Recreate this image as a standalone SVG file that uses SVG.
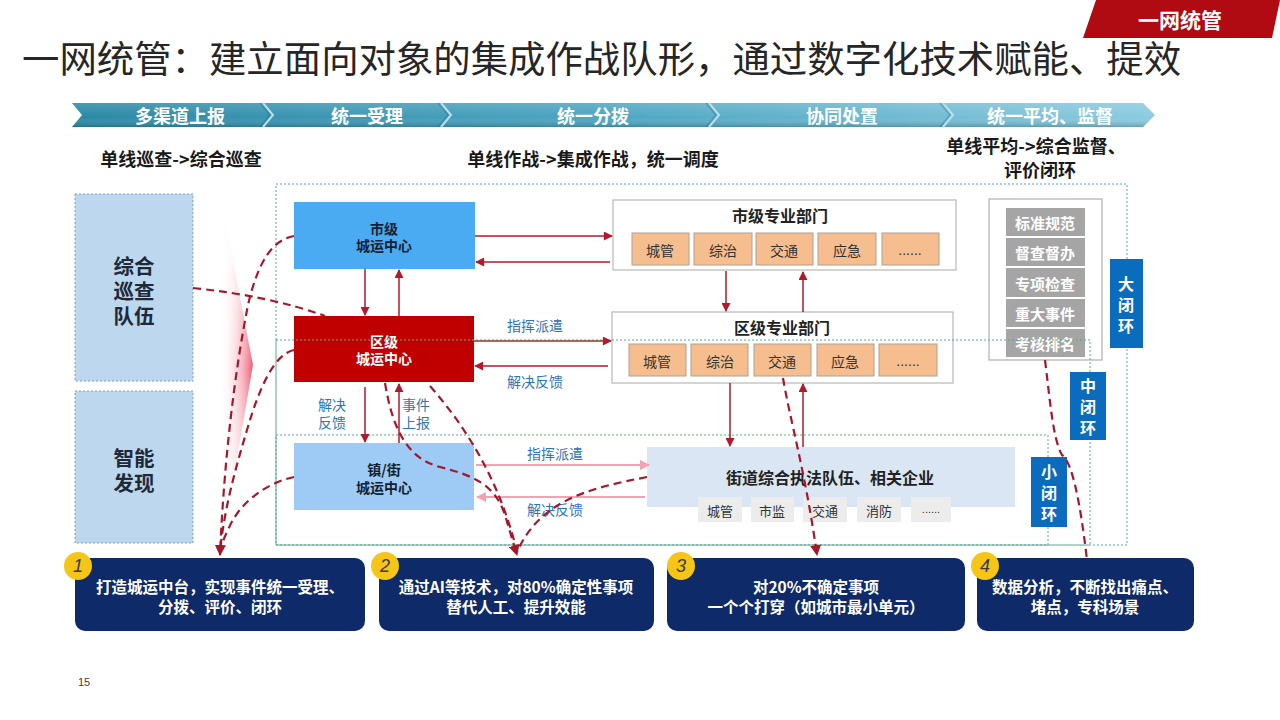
<svg xmlns="http://www.w3.org/2000/svg" width="1280" height="720" viewBox="0 0 1280 720">
<defs>
<style>
.cjk{font-family:"Noto Sans CJK SC","Noto Sans",sans-serif}
.b{font-weight:bold}
.c{text-anchor:middle;dominant-baseline:central}
.sub{font-size:18px;fill:#1a1a1a;font-weight:bold}
.band{font-size:18px;fill:#fff;font-weight:bold}
.lbl{font-size:14px;fill:#2e75b6}
.orange{fill:#f6bd8e;stroke:#b0a090;stroke-width:1}
.oTxt{font-size:14px;fill:#333}
.gray{fill:#a5a5a5}
.gTxt{font-size:15px;fill:#fff;font-weight:bold}
.loopLbl{fill:#0b6cbd}
.loopTxt{font-size:16px;fill:#fff;font-weight:bold}
.navy{fill:#0f2a69}
.navyTxt{font-size:15.5px;fill:#fff;font-weight:bold}
.circ{fill:#f5c518}
.num{font-family:"Liberation Sans",sans-serif;font-style:italic;font-size:18px;fill:#3a3a3a}
.solid{stroke:#b3192b;stroke-width:1.5;fill:none;marker-end:url(#ah)}
.pink{stroke:#f2a3b2;stroke-width:2;fill:none;marker-end:url(#ahp)}
.dash{stroke:#a5172b;stroke-width:2.2;fill:none;stroke-dasharray:8 5}
.dashA{stroke:#a5172b;stroke-width:2.2;fill:none;stroke-dasharray:8 5;marker-end:url(#ahd)}
</style>
<marker id="ah" viewBox="0 0 10 10" refX="9" refY="5" markerUnits="userSpaceOnUse" markerWidth="10" markerHeight="9" orient="auto"><path d="M0,0 L10,5 L0,10 z" fill="#b3192b"/></marker>
<marker id="ahp" viewBox="0 0 10 10" refX="9" refY="5" markerUnits="userSpaceOnUse" markerWidth="11" markerHeight="10" orient="auto"><path d="M0,0 L10,5 L0,10 z" fill="#f2a3b2"/></marker>
<marker id="ahd" viewBox="0 0 10 10" refX="9" refY="5" markerUnits="userSpaceOnUse" markerWidth="11" markerHeight="11" orient="auto"><path d="M0,0 L10,5 L0,10 z" fill="#a5172b"/></marker>
<linearGradient id="bandG" x1="0" y1="0" x2="1" y2="0">
<stop offset="0" stop-color="#2a88a5"/><stop offset="0.5" stop-color="#4ea6c2"/><stop offset="1" stop-color="#8ccbe0"/>
</linearGradient>
<linearGradient id="bandV" x1="0" y1="0" x2="0" y2="1">
<stop offset="0" stop-color="#fff" stop-opacity="0.15"/><stop offset="0.6" stop-color="#fff" stop-opacity="0"/><stop offset="1" stop-color="#0a3a4a" stop-opacity="0.3"/>
</linearGradient>
<linearGradient id="pinkH" x1="0" y1="0" x2="1" y2="0">
<stop offset="0" stop-color="#ffffff" stop-opacity="0"/><stop offset="1" stop-color="#ee4a66" stop-opacity="0.9"/>
</linearGradient>
<linearGradient id="pinkV" x1="0" y1="0" x2="0" y2="1">
<stop offset="0" stop-color="#fff" stop-opacity="0.9"/><stop offset="0.5" stop-color="#fff" stop-opacity="0"/><stop offset="1" stop-color="#fff" stop-opacity="0.9"/>
</linearGradient>
</defs>
<rect width="1280" height="720" fill="#fff"/>

<g id="tag">
<polygon points="1096,0 1280,0 1272,38 1083,38" fill="#b00a12"/>
<text class="cjk b c" x="1180" y="19" font-size="21" fill="#fff">一网统管</text>
</g>
<g id="title">
<text class="cjk" x="22" y="73" font-size="37.4" fill="#262626">一网统管：建立面向对象的集成作战队形，通过数字化技术赋能、提效</text>
</g>

<g id="header-band">
<path d="M72,103 L1143,103 L1155,115 L1143,127 L72,127 L82,115 Z" fill="url(#bandG)"/>
<path d="M72,103 L1143,103 L1155,115 L1143,127 L72,127 L82,115 Z" fill="url(#bandV)"/>
<g fill="none">
<polyline points="260,103 270,115 260,127" stroke="#1d6a80" stroke-opacity="0.35" stroke-width="1.5"/>
<polyline points="263,103 273,115 263,127" stroke="#b8dfec" stroke-width="2"/>
<polyline points="438,103 448,115 438,127" stroke="#1d6a80" stroke-opacity="0.35" stroke-width="1.5"/>
<polyline points="441,103 451,115 441,127" stroke="#b8dfec" stroke-width="2"/>
<polyline points="706,103 716,115 706,127" stroke="#1d6a80" stroke-opacity="0.35" stroke-width="1.5"/>
<polyline points="709,103 719,115 709,127" stroke="#b8dfec" stroke-width="2"/>
<polyline points="940,103 950,115 940,127" stroke="#1d6a80" stroke-opacity="0.35" stroke-width="1.5"/>
<polyline points="943,103 953,115 943,127" stroke="#b8dfec" stroke-width="2"/>
</g>
<text class="cjk band c" x="180" y="115">多渠道上报</text>
<text class="cjk band c" x="367" y="115">统一受理</text>
<text class="cjk band c" x="593" y="115">统一分拨</text>
<text class="cjk band c" x="842" y="115">协同处置</text>
<text class="cjk band c" x="1050" y="115">统一平均、监督</text>
</g>

<g id="subtitles">
<text class="cjk sub c" x="181" y="158">单线巡查-&gt;综合巡查</text>
<text class="cjk sub c" x="593" y="158">单线作战-&gt;集成作战，统一调度</text>
<text class="cjk sub c" x="1036" y="145">单线平均-&gt;综合监督、</text>
<text class="cjk sub c" x="1040" y="169">评价闭环</text>
</g>

<g id="pink-chevron">
<polygon points="220,195 253,365 222,545 220,545" fill="url(#pinkH)"/>
<polygon points="220,195 253,365 222,545 220,545" fill="url(#pinkV)"/>
</g>

<g id="patrol-team">
<rect x="75" y="194" width="118" height="187" fill="#bdd7ee" stroke="#7f9fc0" stroke-width="1" stroke-dasharray="2 2"/>
<text class="cjk b c" x="134" y="265" font-size="20.5" fill="#1e2a38">综合</text>
<text class="cjk b c" x="134" y="290" font-size="20.5" fill="#1e2a38">巡查</text>
<text class="cjk b c" x="134" y="315" font-size="20.5" fill="#1e2a38">队伍</text>
</g>
<g id="smart-discovery">
<rect x="75" y="391" width="118" height="152" fill="#bdd7ee" stroke="#7f9fc0" stroke-width="1" stroke-dasharray="2 2"/>
<text class="cjk b c" x="134" y="457" font-size="20.5" fill="#1e2a38">智能</text>
<text class="cjk b c" x="134" y="482" font-size="20.5" fill="#1e2a38">发现</text>
</g>

<g id="city-center">
<rect x="294" y="202" width="181" height="67" fill="#4aabf3"/>
<text class="cjk b c" x="384" y="228" font-size="14" fill="#141e30">市级</text>
<text class="cjk b c" x="384" y="245" font-size="14" fill="#141e30">城运中心</text>
</g>
<g id="district-center">
<rect x="294" y="316" width="180" height="66" fill="#c00000"/>
<text class="cjk b c" x="384" y="341" font-size="14" fill="#fff">区级</text>
<text class="cjk b c" x="384" y="358" font-size="14" fill="#fff">城运中心</text>
</g>
<g id="street-center">
<rect x="294" y="443" width="180" height="67" fill="#9dcbf5"/>
<text class="cjk b c" x="384" y="469" font-size="14" fill="#141e30">镇/街</text>
<text class="cjk b c" x="384" y="487" font-size="14" fill="#141e30">城运中心</text>
</g>

<g id="city-depts">
<rect x="613" y="200" width="343" height="70" fill="#fff" stroke="#b8b8b8" stroke-width="1.2"/>
<text class="cjk b c" x="780" y="215" font-size="16" fill="#222">市级专业部门</text>
<rect class="orange" x="632" y="233" width="57" height="32"/>
<rect class="orange" x="694" y="233" width="58" height="32"/>
<rect class="orange" x="756" y="233" width="57" height="32"/>
<rect class="orange" x="818" y="233" width="58" height="32"/>
<rect class="orange" x="882" y="233" width="57" height="32"/>
<text class="cjk oTxt c" x="660" y="250">城管</text>
<text class="cjk oTxt c" x="723" y="250">综治</text>
<text class="cjk oTxt c" x="784" y="250">交通</text>
<text class="cjk oTxt c" x="847" y="250">应急</text>
<text class="oTxt c" x="910" y="250" font-family="Liberation Sans,sans-serif" font-size="12">......</text>
</g>
<g id="district-depts">
<rect x="612" y="312" width="341" height="71" fill="#fff" stroke="#b8b8b8" stroke-width="1.2"/>
<text class="cjk b c" x="782" y="327" font-size="16" fill="#222">区级专业部门</text>
<rect class="orange" x="629" y="344" width="57" height="32"/>
<rect class="orange" x="691" y="344" width="57" height="32"/>
<rect class="orange" x="754" y="344" width="57" height="32"/>
<rect class="orange" x="817" y="344" width="57" height="32"/>
<rect class="orange" x="879" y="344" width="58" height="32"/>
<text class="cjk oTxt c" x="657" y="361">城管</text>
<text class="cjk oTxt c" x="720" y="361">综治</text>
<text class="cjk oTxt c" x="782" y="361">交通</text>
<text class="cjk oTxt c" x="845" y="361">应急</text>
<text class="oTxt c" x="908" y="361" font-family="Liberation Sans,sans-serif" font-size="12">......</text>
</g>
<g id="street-teams">
<rect x="647" y="447" width="368" height="60" fill="#dae6f3"/>
<text class="cjk b c" x="830" y="477" font-size="16" fill="#222">街道综合执法队伍、相关企业</text>
<g fill="#ececec">
<rect x="698" y="497" width="44" height="25"/>
<rect x="751" y="497" width="43" height="25"/>
<rect x="803" y="497" width="44" height="25"/>
<rect x="857" y="497" width="44" height="25"/>
<rect x="911" y="497" width="40" height="25"/>
</g>
<g class="cjk c" font-size="13" fill="#333">
<text x="720" y="510">城管</text>
<text x="772" y="510">市监</text>
<text x="825" y="510">交通</text>
<text x="879" y="510">消防</text>
<text x="931" y="509" font-family="Liberation Sans,sans-serif" font-size="11">......</text>
</g>
</g>

<g id="supervision">
<rect x="989" y="199" width="113" height="161" fill="#fff" stroke="#b0b0b0" stroke-width="1.2"/>
<rect class="gray" x="1006" y="208" width="79" height="28"/>
<rect class="gray" x="1006" y="238" width="79" height="28"/>
<rect class="gray" x="1006" y="268" width="79" height="29"/>
<rect class="gray" x="1006" y="299" width="79" height="28"/>
<rect class="gray" x="1006" y="329" width="79" height="28"/>
<text class="cjk gTxt c" x="1045" y="222">标准规范</text>
<text class="cjk gTxt c" x="1045" y="252">督查督办</text>
<text class="cjk gTxt c" x="1045" y="283">专项检查</text>
<text class="cjk gTxt c" x="1045" y="313">重大事件</text>
<text class="cjk gTxt c" x="1045" y="343">考核排名</text>
</g>

<g id="loops">
<rect x="276" y="184" width="851" height="361" fill="none" stroke="#5e9fb5" stroke-width="1" stroke-dasharray="2 2"/>
<rect x="276" y="340" width="814" height="205" fill="none" stroke="#5aac7c" stroke-width="1" stroke-dasharray="2 2"/>
<rect x="276" y="435" width="772" height="110" fill="none" stroke="#5aac7c" stroke-width="1" stroke-dasharray="2 2"/>
</g>
<g id="loop-big">
<rect class="loopLbl" x="1110" y="259" width="33" height="89"/>
<text class="cjk loopTxt c" x="1126" y="283">大</text>
<text class="cjk loopTxt c" x="1126" y="304">闭</text>
<text class="cjk loopTxt c" x="1126" y="325">环</text>
</g>
<g id="loop-mid">
<rect class="loopLbl" x="1070" y="372" width="36" height="68"/>
<text class="cjk loopTxt c" x="1088" y="385">中</text>
<text class="cjk loopTxt c" x="1088" y="406">闭</text>
<text class="cjk loopTxt c" x="1088" y="427">环</text>
</g>
<g id="loop-small">
<rect class="loopLbl" x="1031" y="457" width="36" height="70"/>
<text class="cjk loopTxt c" x="1049" y="471">小</text>
<text class="cjk loopTxt c" x="1049" y="492">闭</text>
<text class="cjk loopTxt c" x="1049" y="513">环</text>
</g>

<g id="connectors">
<line class="solid" x1="475" y1="236" x2="612" y2="236"/>
<line class="solid" x1="610" y1="262" x2="476" y2="262"/>
<line class="solid" x1="365" y1="269" x2="365" y2="315"/>
<line class="solid" x1="399" y1="316" x2="399" y2="270"/>
<line class="solid" x1="474" y1="341" x2="611" y2="341" style="stroke:#8a3a2a"/>
<line class="solid" x1="608" y1="366" x2="475" y2="366"/>
<line class="solid" x1="365" y1="387" x2="365" y2="442"/>
<line class="solid" x1="399" y1="443" x2="399" y2="384"/>
<line class="solid" x1="726" y1="271" x2="726" y2="311"/>
<line class="solid" x1="803" y1="312" x2="803" y2="272"/>
<line class="solid" x1="730" y1="383" x2="730" y2="446"/>
<line class="solid" x1="803" y1="447" x2="803" y2="384"/>
<line class="pink" x1="476" y1="465" x2="649" y2="465"/>
<line class="pink" x1="645" y1="497" x2="477" y2="497"/>
<text class="cjk lbl c" x="535" y="325">指挥派遣</text>
<text class="cjk lbl c" x="535" y="381">解决反馈</text>
<text class="cjk lbl c" x="332" y="404">解决</text>
<text class="cjk lbl c" x="332" y="422">反馈</text>
<text class="cjk lbl c" x="416" y="404">事件</text>
<text class="cjk lbl c" x="416" y="422">上报</text>
<text class="cjk lbl c" x="555" y="453">指挥派遣</text>
<text class="cjk lbl c" x="555" y="509">解决反馈</text>

<path class="dash" d="M193,288 Q270,296 325,316"/>
<path class="dashA" d="M294,236 C272,240 258,262 248,305 C235,370 224,460 220,555"/>
<path class="dash" d="M294,350 C275,354 260,385 247,430 C235,470 224,510 220,552"/>
<path class="dash" d="M294,477 C270,482 240,500 228,530 C223,540 221,546 220,552"/>
<path class="dashA" d="M385,383 C392,425 405,458 440,467 C475,476 495,485 505,515 L517,555"/>
<path class="dash" d="M430,386 Q495,460 517,552"/>
<path class="dash" d="M647,477 C590,488 540,500 517,552"/>
<path class="dashA" d="M783,378 C790,420 805,470 817,555"/>
<path class="dash" d="M1045,360 C1050,400 1053,440 1062,455 C1072,462 1080,500 1087,560"/>
</g>

<g id="goal-1">
<rect class="navy" x="75" y="558" width="290" height="73" rx="10"/>
<circle class="circ" cx="78" cy="566" r="14"/>
<text class="num c" x="78" y="566">1</text>
<text class="cjk navyTxt c" x="220" y="586">打造城运中台，实现事件统一受理、</text>
<text class="cjk navyTxt c" x="220" y="606">分拨、评价、闭环</text>
</g>
<g id="goal-2">
<rect class="navy" x="379" y="558" width="275" height="73" rx="10"/>
<circle class="circ" cx="385" cy="566" r="14"/>
<text class="num c" x="385" y="566">2</text>
<text class="cjk navyTxt c" x="516" y="586">通过AI等技术，对80%确定性事项</text>
<text class="cjk navyTxt c" x="516" y="606">替代人工、提升效能</text>
</g>
<g id="goal-3">
<rect class="navy" x="667" y="558" width="298" height="73" rx="10"/>
<circle class="circ" cx="681" cy="566" r="14"/>
<text class="num c" x="681" y="566">3</text>
<text class="cjk navyTxt c" x="816" y="586">对20%不确定事项</text>
<text class="cjk navyTxt c" x="816" y="606">一个个打穿（如城市最小单元）</text>
</g>
<g id="goal-4">
<rect class="navy" x="977" y="558" width="217" height="73" rx="10"/>
<circle class="circ" cx="985" cy="566" r="14"/>
<text class="num c" x="985" y="566">4</text>
<text class="cjk navyTxt c" x="1085" y="586">数据分析，不断找出痛点、</text>
<text class="cjk navyTxt c" x="1085" y="606">堵点，专科场景</text>
</g>

<g id="page-number">
<text x="78" y="686" font-family="Liberation Sans,sans-serif" font-size="11" fill="#404040">15</text>
</g>
</svg>
